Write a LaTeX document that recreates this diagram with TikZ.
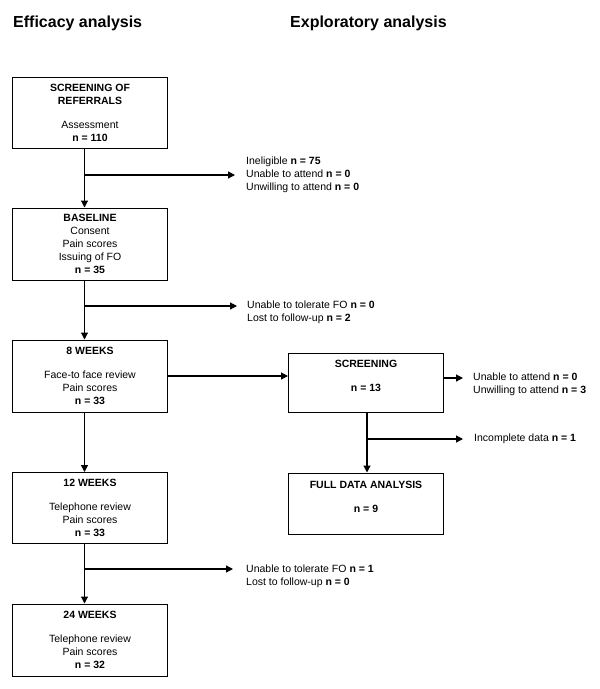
\documentclass[tikz,border=0pt]{standalone}
\usepackage{fontspec}
\setmainfont{Liberation Sans}
\usetikzlibrary{arrows.meta}

\begin{document}
\begin{tikzpicture}[x=1pt,y=1pt,
                box/.style={draw, line width=1pt, minimum width=155pt, align=center},
                flow/.style={line width=1.2pt, -{Triangle[length=7pt,width=7pt]}},
                side/.style={anchor=west, align=left},
                head/.style={anchor=base west, font=\fontsize{16}{19}\selectfont\bfseries}]
                \tikzstyle{every node}+=[inner sep=0pt, font=\fontsize{10.5}{13}\selectfont]
                \useasboundingbox (0,0) rectangle (600,-689);
                \node[head] (effi) at (13,-27) {Efficacy analysis};
                \node[head] (expl) at (290,-27) {Exploratory analysis};
                % efficacy column
                \node[box, minimum height=71pt] (refer) at (90,-112.5) {\textbf{SCREENING OF}\\\textbf{REFERRALS}\\[11pt]Assessment\\\textbf{n = 110}};
                \node[box, minimum height=72pt] (base) at (90,-244) {\textbf{BASELINE}\\Consent\\Pain scores\\Issuing of FO\\\textbf{n = 35}};
                \node[box, minimum height=72pt] (wk8) at (90,-376) {\textbf{8 WEEKS}\\[11pt]Face-to face review\\Pain scores\\\textbf{n = 33}};
                \node[box, minimum height=71pt] (wk12) at (90,-508) {\textbf{12 WEEKS}\\[11pt]Telephone review\\Pain scores\\\textbf{n = 33}};
                \node[box, minimum height=72pt] (wk24) at (90,-640) {\textbf{24 WEEKS}\\[11pt]Telephone review\\Pain scores\\\textbf{n = 32}};
                % exploratory column
                \node[box, minimum height=59pt] (scr) at (366,-382.5) {\textbf{SCREENING}\\[11pt]\textbf{n = 13}\\~};
                \node[box, minimum height=61pt] (full) at (366,-503.5) {\textbf{FULL DATA ANALYSIS}\\[11pt]\textbf{n = 9}\\~};
                % drop-outs
                \node[side] (out1) at (246,-174.5) {Ineligible \textbf{n = 75}\\Unable to attend \textbf{n = 0}\\Unwilling to attend \textbf{n = 0}};
                \node[side] (out2) at (247,-312.5) {Unable to tolerate FO \textbf{n = 0}\\Lost to follow-up \textbf{n = 2}};
                \node[side] (out3) at (246,-576.5) {Unable to tolerate FO \textbf{n = 1}\\Lost to follow-up \textbf{n = 0}};
                \node[side] (out4) at (473,-384.5) {Unable to attend \textbf{n = 0}\\Unwilling to attend \textbf{n = 3}};
                \node[side] (out5) at (474,-439) {Incomplete data \textbf{n = 1}};
                \coordinate (j1) at (84.5,-175);
                \coordinate (e1) at (235,-175);
                \coordinate (j2) at (84.5,-306);
                \coordinate (e2) at (237,-306);
                \coordinate (j3) at (84.5,-569);
                \coordinate (e3) at (233,-569);
                \coordinate (e4) at (463,-378);
                \coordinate (j5) at (367,-439);
                \coordinate (e5) at (463,-439);
                \draw [flow] (refer.south -| j1) -- (base.north -| j1);
                \draw [flow] (j1) -- (e1);
                \draw [flow] (base.south -| j2) -- (wk8.north -| j2);
                \draw [flow] (j2) -- (e2);
                \draw [flow] (wk8.south -| j1) -- (wk12.north -| j1);
                \draw [flow] (wk12.south -| j3) -- (wk24.north -| j3);
                \draw [flow] (j3) -- (e3);
                \draw [flow] (wk8.east) -- (wk8.east -| scr.west);
                \draw [flow] (scr.east |- e4) -- (e4);
                \draw [flow] (scr.south -| j5) -- (full.north -| j5);
                \draw [flow] (j5) -- (e5);
            \end{tikzpicture}
\end{document}
